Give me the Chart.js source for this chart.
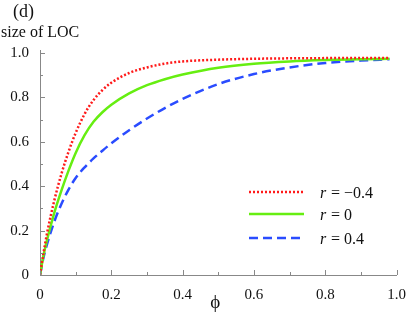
<!DOCTYPE html>
<html>
<head>
<meta charset="utf-8">
<script src="https://cdn.jsdelivr.net/npm/chart.js@4"></script>
<style>
  html, body { margin: 0; padding: 0; background: #fff; }
  #wrap { width: 409px; height: 313px; }
</style>
</head>
<body>
<div id="wrap"><canvas id="locChart" width="409" height="313"></canvas></div>
<script>
const phi = [0, 0.01, 0.02, 0.04, 0.06, 0.08, 0.1, 0.125, 0.15, 0.175, 0.2, 0.25, 0.3, 0.35, 0.4, 0.5, 0.6, 0.7, 0.8, 0.9, 0.98];
const rMinus = [0, 0.10, 0.19, 0.335, 0.455, 0.555, 0.64, 0.725, 0.788, 0.833, 0.866, 0.91, 0.935, 0.952, 0.962, 0.970, 0.974, 0.976, 0.977, 0.978, 0.978];
const rZero  = [0, 0.09, 0.16, 0.28, 0.38, 0.47, 0.55, 0.63, 0.69, 0.733, 0.767, 0.818, 0.855, 0.882, 0.903, 0.934, 0.952, 0.962, 0.968, 0.972, 0.974];
const rPlus  = [0, 0.08, 0.14, 0.24, 0.32, 0.385, 0.437, 0.485, 0.525, 0.56, 0.593, 0.652, 0.705, 0.752, 0.793, 0.86, 0.905, 0.935, 0.955, 0.966, 0.972];
const seriesLabels = ['\u22120.4', '0', '0.4'];
const seriesColors = ['#ff1a1a', '#66ee11', '#2a4cff'];
const seriesDash = [[2, 2], [], [9, 5]];

const serif = '"Liberation Serif", "DejaVu Serif", serif';

function points(ys) {
  return phi.map((x, i) => ({ x: x, y: ys[i] }));
}

// inward ticks, titles and the inset legend
const decor = {
  id: 'decor',
  afterDraw(chart) {
    const ctx = chart.ctx;
    const xs = chart.scales.x, ys = chart.scales.y;
    const area = chart.chartArea;
    ctx.save();
    ctx.strokeStyle = '#888';
    ctx.lineWidth = 1;
    for (let i = 0; i <= 10; i++) {
      const len = i % 2 === 0 ? 5 : 3;
      const px = Math.round(xs.getPixelForValue(i / 10)) + 0.5;
      ctx.beginPath();
      ctx.moveTo(px, area.bottom);
      ctx.lineTo(px, area.bottom - len);
      ctx.stroke();
      const py = Math.round(ys.getPixelForValue(i / 10)) + 0.5;
      ctx.beginPath();
      ctx.moveTo(area.left, py);
      ctx.lineTo(area.left + len, py);
      ctx.stroke();
    }
    // axis line runs a little past 1.0
    ctx.beginPath();
    ctx.moveTo(area.left + 0.5, area.top);
    ctx.lineTo(area.left + 0.5, area.top - 3);
    ctx.stroke();

    ctx.fillStyle = '#111';
    ctx.textBaseline = 'alphabetic';
    ctx.textAlign = 'left';
    ctx.font = '18px ' + serif;
    ctx.fillText('(d)', 13, 17);
    ctx.font = '16px ' + serif;
    ctx.fillText('size of LOC', 1, 37);

    ctx.textAlign = 'center';
    ctx.font = '19px ' + serif;
    ctx.fillText('\u03d5', (area.left + area.right) / 2 - 3, 308);
    ctx.textAlign = 'left';

    // legend
    const lx0 = 249, lx1 = 304;
    const rows = [192, 214, 238];
    rows.forEach((y, i) => {
      ctx.strokeStyle = seriesColors[i];
      ctx.lineWidth = 2.5;
      ctx.setLineDash(seriesDash[i]);
      ctx.beginPath();
      ctx.moveTo(lx0, y);
      ctx.lineTo(lx1, y);
      ctx.stroke();
      ctx.setLineDash([]);
      ctx.fillStyle = '#111';
      ctx.font = 'italic 16px ' + serif;
      ctx.fillText('r', 320, y + 6);
      ctx.font = '16px ' + serif;
      ctx.fillText('= ' + seriesLabels[i], 331, y + 6);
    });
    ctx.restore();
  }
};

new Chart(document.getElementById('locChart'), {
  type: 'line',
  data: {
    datasets: [rMinus, rZero, rPlus].map((ys, i) => ({
      label: seriesLabels[i],
      data: points(ys),
      borderColor: seriesColors[i],
      borderDash: seriesDash[i],
      borderWidth: 2.5,
      pointRadius: 0,
      cubicInterpolationMode: 'monotone',
      fill: false
    }))
  },
  options: {
    responsive: false,
    animation: false,
    layout: { padding: { top: 53, right: 9, left: 0, bottom: 0 } },
    plugins: { legend: { display: false }, tooltip: { enabled: false } },
    scales: {
      x: {
        type: 'linear',
        min: 0,
        max: 1,
        grid: { display: false },
        border: { display: true, color: '#888' },
        ticks: {
          stepSize: 0.2,
          padding: 3,
          color: '#111',
          font: { family: serif, size: 15 },
          maxRotation: 0,
          callback: v => v === 0 ? '0' : v.toFixed(1)
        },
        afterFit(scale) { scale.height = 38; }
      },
      y: {
        min: 0,
        max: 1,
        grid: { display: false },
        border: { display: true, color: '#888' },
        ticks: {
          stepSize: 0.2,
          padding: 3,
          color: '#111',
          font: { family: serif, size: 15 },
          callback: v => v === 0 ? '0' : v.toFixed(1)
        },
        afterFit(scale) { scale.width = 40; }
      }
    }
  },
  plugins: [decor]
});
</script>
</body>
</html>
